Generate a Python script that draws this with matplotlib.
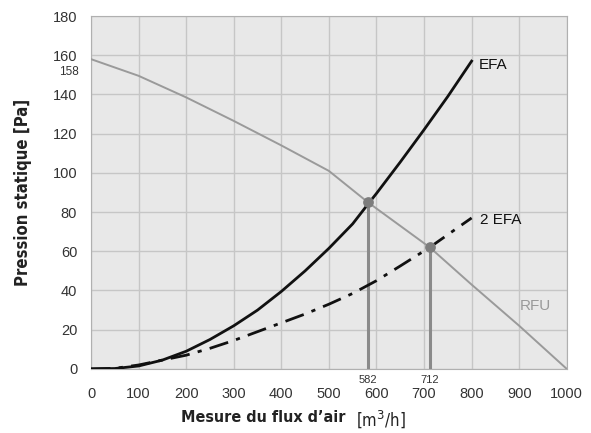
import numpy as np
import matplotlib.pyplot as plt

# valeurs
debit_efa = [0, 50, 100, 150, 200, 250, 300, 350, 400, 450, 500, 550, 582, 600, 650, 700, 750, 800]
press_efa = [0, 0.2, 1.5, 4.5, 9, 15, 22, 30, 39.5, 50, 61.5, 74, 84, 89.5, 105.5, 122, 139, 157]

debit_2efa = [0, 50, 100, 150, 200, 250, 300, 350, 400, 450, 500, 550, 600, 650, 712, 750, 800]
press_2efa = [0, 0.3, 2, 4.5, 7, 10.5, 14.5, 19, 23.5, 28, 33, 38.5, 45, 52.5, 62, 68.5, 77]

debit_rfu = [0, 100, 200, 300, 400, 500, 582, 712, 800, 900, 1000]
press_rfu = [158, 149.5, 138.5, 126.5, 114, 101, 85, 62, 43, 22, 0]

points_x = [582, 712]
points_y = [85, 62]

gris = '#8a8a8a'
police = ['Liberation Sans', 'DejaVu Sans']

fig = plt.figure(figsize=(5.91, 4.33), dpi=100)
ax = fig.add_axes([0.154, 0.148, 0.805, 0.815])
ax.set_facecolor('#e8e8e8')

ax.plot(debit_rfu, press_rfu, color='#9a9a9a', lw=1.4, zorder=3)
ax.plot(debit_efa, press_efa, color='#111111', lw=2.0, zorder=4)
ax.plot(debit_2efa, press_2efa, color='#111111', lw=2.0, dashes=(7, 3, 1.5, 3), zorder=4)

for px, py in zip(points_x, points_y):
    ax.plot([px, px], [0, py], color=gris, lw=2.2, zorder=3)
ax.scatter(points_x, points_y, s=45, color='#7d7d7d', zorder=5)

ax.set_xlim(0, 1000)
ax.set_ylim(0, 180)
ax.set_xticks(np.arange(0, 1001, 100))
ax.set_yticks(np.arange(0, 181, 20))
ax.grid(True, color='#c6c6c6', lw=1.0)
ax.set_axisbelow(True)
ax.tick_params(length=0)
ax.tick_params(axis='x', labelsize=10.5, colors='#333333', pad=13)
ax.tick_params(axis='y', labelsize=10.5, colors='#333333', pad=10)
for lab in ax.get_xticklabels() + ax.get_yticklabels():
    lab.set_family(police)
for s in ax.spines.values():
    s.set_color('#b0b0b0')

# petites étiquettes
ax.text(582, -3, '582', fontsize=8, ha='center', va='top', color='#333333', family=police)
ax.text(712, -3, '712', fontsize=8, ha='center', va='top', color='#333333', family=police)
ax.text(-0.025, 151.5, '158', fontsize=8.5, ha='right', va='center', color='#333333',
        family=police, transform=ax.get_yaxis_transform())

ax.text(815, 155, 'EFA', fontsize=11, color='#111111', va='center', family=police)
ax.text(818, 76, '2 EFA', fontsize=11, color='#111111', va='center', family=police)
ax.text(902, 32, 'RFU', fontsize=11, color='#999999', va='center', family=police)

ax.set_ylabel('Pression statique [Pa]', fontsize=12, fontweight='bold',
              fontstretch='condensed', color='#222222', labelpad=15)
fig.text(0.584, 0.035, 'Mesure du flux d\u2019air', fontsize=11.5, fontweight='bold',
         fontstretch='condensed', color='#222222', ha='right', va='center')
fig.text(0.602, 0.033, '[m$^3$/h]', fontsize=12, fontstretch='condensed',
         color='#222222', ha='left', va='center')

fig.savefig('out.png', dpi=100)
